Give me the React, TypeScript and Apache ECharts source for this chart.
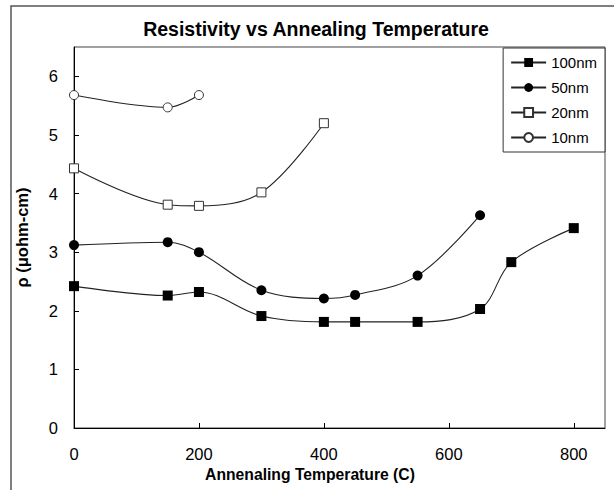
import React, { useEffect, useRef } from "react";
import * as echarts from "echarts";

const titleText = "Resistivity vs Annealing Temperature";
const xAxisTitle = "Annenaling Temperature (C)";
const yAxisTitle = "ρ (μohm-cm)";

const temps100 = [0, 150, 200, 300, 400, 450, 550, 650, 700, 800];
const rho100 = [2.42, 2.26, 2.32, 1.91, 1.81, 1.81, 1.81, 2.03, 2.83, 3.41];
const temps50 = [0, 150, 200, 300, 400, 450, 550, 650];
const rho50 = [3.12, 3.17, 3.0, 2.35, 2.21, 2.27, 2.6, 3.63];
const temps20 = [0, 150, 200, 300, 400];
const rho20 = [4.43, 3.81, 3.79, 4.02, 5.2];
const temps10 = [0, 150, 200];
const rho10 = [5.68, 5.47, 5.68];

const seriesNames = ["100nm", "50nm", "20nm", "10nm"];

const pair = (xs: number[], ys: number[]) => xs.map((x, i) => [x, ys[i]]);

const FONT = "'Liberation Sans', Arial, sans-serif";

export default function App() {
  const ref = useRef<HTMLDivElement>(null);
  useEffect(() => {
    if (!ref.current) return;
    const chart = echarts.init(ref.current, undefined, { renderer: "svg" });
    const lineStyle = { color: "#222", width: 1.1 };
    const mk = (
      name: string,
      data: number[][],
      symbol: string,
      size: number,
      filled: boolean
    ) => ({
      name,
      type: "line",
      data,
      smooth: 0.35,
      symbol,
      symbolSize: size,
      showSymbol: true,
      lineStyle,
      itemStyle: filled
        ? { color: "#000", borderColor: "#000", borderWidth: 0 }
        : { color: "#fff", borderColor: "#333", borderWidth: 1 },
      emphasis: { disabled: true },
      z: 5,
    });
    chart.setOption({
      animation: false,
      backgroundColor: "#fff",
      textStyle: { fontFamily: FONT },
      title: {
        text: titleText,
        left: 311,
        top: 14,
        textAlign: "center",
        textStyle: { fontFamily: FONT, fontSize: 19.5, fontWeight: "bold", color: "#000" },
      },
      grid: {
        left: 74,
        top: 47,
        right: 9,
        bottom: 62,
        show: true,
        borderColor: "#444",
        borderWidth: 1,
      },
      legend: {
        orient: "vertical",
        right: 9,
        top: 48,
        data: seriesNames,
        selectedMode: false,
        itemWidth: 35,
        itemHeight: 11,
        itemGap: 10,
        padding: [7, 8, 7, 7],
        borderColor: "#333",
        borderWidth: 1,
        backgroundColor: "#fff",
        textStyle: { fontFamily: FONT, fontSize: 15, color: "#000", lineHeight: 15 },
      },
      xAxis: {
        type: "value",
        min: 0,
        max: 850,
        interval: 200,
        splitLine: { show: false },
        axisLine: { lineStyle: { color: "#000", width: 1 } },
        axisTick: { inside: true, length: 5, lineStyle: { color: "#000" } },
        axisLabel: {
          color: "#000",
          fontSize: 16.5,
          fontFamily: FONT,
          margin: 17,
          showMaxLabel: false,
        },
      },
      yAxis: {
        type: "value",
        min: 0,
        max: 6.5,
        interval: 1,
        name: yAxisTitle,
        nameLocation: "middle",
        nameGap: 44,
        nameTextStyle: { fontFamily: FONT, fontSize: 16.5, fontWeight: "bold", color: "#000" },
        splitLine: { show: false },
        axisLine: { lineStyle: { color: "#000", width: 1 } },
        axisTick: { inside: true, length: 5, lineStyle: { color: "#000" } },
        axisLabel: {
          color: "#000",
          fontSize: 16.5,
          fontFamily: FONT,
          margin: 16,
          showMaxLabel: false,
        },
      },
      graphic: [
        {
          type: "rect",
          shape: { x: 11, y: 6, width: 700, height: 600 },
          style: { fill: "none", stroke: "#555", lineWidth: 1.5 },
          silent: true,
          z: -1,
        },
        {
          type: "text",
          x: 310,
          y: 474,
          style: {
            text: xAxisTitle,
            fontFamily: FONT,
            fontSize: 15.7,
            fontWeight: "bold",
            fill: "#000",
            align: "center",
            verticalAlign: "middle",
          },
          silent: true,
        },
      ],
      series: [
        mk(seriesNames[0], pair(temps100, rho100), "rect", 10, true),
        mk(seriesNames[1], pair(temps50, rho50), "circle", 10, true),
        mk(seriesNames[2], pair(temps20, rho20), "rect", 9, false),
        mk(seriesNames[3], pair(temps10, rho10), "circle", 9, false),
      ],
    });
    return () => chart.dispose();
  }, []);
  return (
    <div
      ref={ref}
      style={{ position: "fixed", left: 0, top: 0, width: 614, height: 490 }}
    />
  );
}
